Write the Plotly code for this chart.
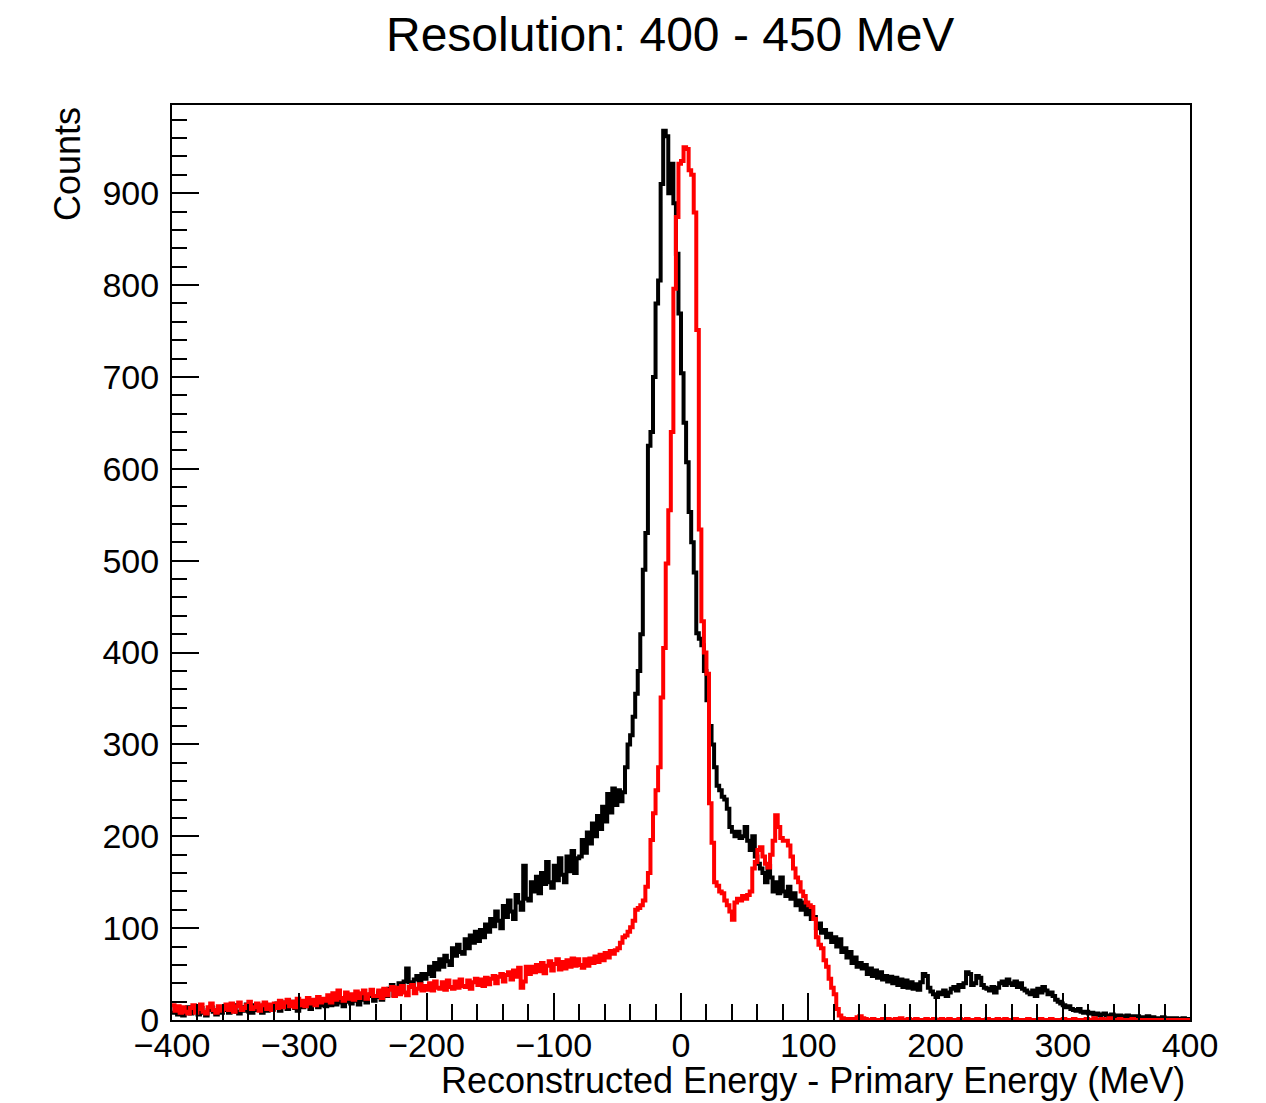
import numpy as np
import plotly.graph_objects as go

# Histogram binning: 400 bins of 2 MeV from -400 to 400
x_min, x_max, n_bins = -400, 400, 400

# Black histogram counts (per 2 MeV bin), in 20-bin blocks
black_counts = (
    [8,13,6,12,5,11,14,7,9,12,6,13,8,5,11,14,9,6,13,8] +
    [11,15,8,13,16,9,7,14,10,17,9,8,16,11,14,8,17,10,15,12] +
    [13,18,10,16,19,12,17,20,13,10,18,14,16,20,12,18,21,14,16,20] +
    [15,22,16,23,17,24,19,15,25,20,18,26,21,17,27,22,19,26,28,21] +
    [25,30,22,32,26,34,38,27,35,40,33,42,56,41,37,44,48,42,50,45] +
    [50,58,48,62,55,66,58,70,64,60,78,70,82,74,72,88,78,92,84,96] +
    [86,98,90,104,96,110,102,118,108,100,124,112,130,118,110,136,128,120,168,132] +
    [130,150,140,156,138,160,148,172,150,144,168,152,176,158,150,178,162,184,160,176] +
    [178,196,182,204,192,214,200,222,208,232,216,246,226,252,234,250,238,248,275,300] +
    [310,330,355,380,420,490,530,625,640,700,780,805,910,968,962,900,932,889,834,769] +
    [704,650,607,553,520,487,421,415,408,380,348,320,300,275,255,250,243,240,230,210] +
    [205,200,205,198,200,210,195,185,200,178,170,165,160,150,168,155,140,150,138,155] +
    [140,135,145,132,138,125,130,120,128,115,122,110,112,100,105,95,98,90,94,85] +
    [90,80,88,74,78,68,74,62,68,58,62,56,60,50,56,48,54,46,52,44] +
    [48,42,47,40,46,38,44,36,43,35,41,34,39,33,41,50,48,35,31,28] +
    [25,30,28,32,26,30,34,36,32,38,36,40,52,50,38,40,48,46,38,35] +
    [34,32,36,30,35,40,42,38,44,40,38,42,36,40,34,32,30,28,32,26] +
    [34,30,36,32,28,30,26,22,20,18,16,14,15,12,11,10,12,9,8,9] +
    [7,8,6,7,5,6,7,5,4,6,5,4,5,3,4,5,3,4,3,4] +
    [3,2,3,4,2,3,2,1,2,3,1,2,2,1,2,1,1,2,1,1]
)

# Red histogram counts (per 2 MeV bin), in 20-bin blocks
red_counts = (
    [16,10,15,8,14,9,7,13,16,8,12,17,9,7,14,18,11,8,15,10] +
    [12,17,11,18,9,15,19,11,13,16,20,12,14,18,10,16,19,12,17,11] +
    [18,13,21,14,19,22,15,20,14,23,16,21,15,24,18,22,16,25,19,23] +
    [21,27,19,29,22,32,24,21,30,23,28,22,31,24,29,32,23,28,33,26] +
    [26,32,24,34,27,33,36,26,35,28,37,30,27,36,38,29,34,39,32,37] +
    [33,40,32,42,35,34,41,33,43,36,34,42,35,44,37,36,43,34,41,45] +
    [38,44,37,46,39,45,48,40,47,50,42,49,52,44,54,47,57,35,42,58] +
    [50,58,52,60,53,62,51,59,64,54,61,66,55,63,56,65,58,67,59,66] +
    [60,57,66,59,67,62,69,63,71,65,73,68,75,72,76,78,84,90,92,96] +
    [101,108,120,122,125,130,145,160,196,225,250,275,351,405,497,555,640,796,874,932] +
    [935,950,948,925,920,879,751,534,434,400,377,236,193,150,146,140,138,130,125,118] +
    [109,128,132,130,135,132,136,140,165,172,185,188,178,170,166,180,195,223,210,198] +
    [195,195,190,178,165,155,150,140,135,128,125,123,110,90,82,78,65,58,45,35] +
    [28,12,5,2,1,1,0,1,0,3,4,2,1,0,0,1,0,0,0,1] +
    [0,1,0,0,1,0,2,0,0,1,0,0,1,0,0,0,1,0,0,1] +
    [0,0,1,0,0,1,0,0,0,1,0,0,1,0,0,0,1,0,0,0] +
    [1,0,0,0,1,0,0,1,0,0,0,1,0,0,0,0,1,0,0,0] +
    [0,1,0,0,0,1,0,0,0,0,1,0,0,0,1,0,0,0,0,1] +
    [0,0,2,0,0,1,0,0,2,0,0,0,1,0,0,0,0,1,0,0] +
    [0,0,0,0,0,0,0,0,0,0,0,0,0,0,0,0,0,0,0,0]
)

assert len(black_counts) == n_bins and len(red_counts) == n_bins

title_text = "Resolution: 400 - 450 MeV"
x_title = "Reconstructed Energy - Primary Energy (MeV)"
y_title = "Counts"
x_ticks = list(range(-400, 401, 100))
y_ticks = list(range(0, 901, 100))

edges = np.linspace(x_min, x_max, n_bins + 1)


def step_xy(counts):
    xs = list(edges)
    ys = list(counts) + [counts[-1]]
    return xs, ys


fig = go.Figure()
for counts, color in [(black_counts, "black"), (red_counts, "#ff0000")]:
    xs, ys = step_xy(counts)
    fig.add_trace(go.Scatter(x=xs, y=ys, mode="lines",
                             line=dict(color=color, width=4, shape="hv"),
                             showlegend=False, hoverinfo="skip"))

font_family = "Liberation Sans, Arial, Helvetica, sans-serif"

# page body adds ~8px offset; plot area targeted at x 172-1190, y 105-1020
fig.update_layout(
    width=1258, height=1095,
    margin=dict(l=164, r=76, t=97, b=83),
    paper_bgcolor="white", plot_bgcolor="white",
    font=dict(family=font_family, color="black", size=33),
    showlegend=False,
)

fig.update_xaxes(
    range=[x_min, x_max], tickvals=x_ticks,
    ticktext=[(("\u2212" + str(-v)) if v < 0 else str(v)) for v in x_ticks],
    ticks="inside", ticklen=27, tickwidth=2, tickcolor="black",
    minor=dict(dtick=20, ticks="inside", ticklen=16, tickwidth=2, tickcolor="black", showgrid=False),
    showline=True, linecolor="black", linewidth=2, mirror=True,
    showgrid=False, zeroline=False, ticklabelstandoff=-6,
    tickfont=dict(size=34, family=font_family, color="black"),
)
fig.update_yaxes(
    range=[0, 996], tickvals=y_ticks,
    ticks="inside", ticklen=27, tickwidth=2, tickcolor="black",
    minor=dict(dtick=20, ticks="inside", ticklen=15, tickwidth=2, tickcolor="black", showgrid=False),
    showline=True, linecolor="black", linewidth=2, mirror=True,
    showgrid=False, zeroline=False, ticklabelstandoff=4,
    tickfont=dict(size=34, family=font_family, color="black"),
)

fig.add_annotation(text=title_text, xref="paper", yref="paper",
                   x=(670 - 172) / 1018, y=1.0 + (105 - 35) / 915, xanchor="center", yanchor="middle",
                   showarrow=False, font=dict(size=48, family=font_family, color="black"))
fig.add_annotation(text=x_title, xref="paper", yref="paper",
                   x=(1187 - 172) / 1018, y=-(1080 - 1020) / 915, xanchor="right", yanchor="middle",
                   showarrow=False, font=dict(size=36, family=font_family, color="black"))
fig.add_annotation(text=y_title, xref="paper", yref="paper", textangle=-90,
                   x=-(172 - 67) / 1018, y=1.0, xanchor="center", yanchor="top",
                   showarrow=False, font=dict(size=36, family=font_family, color="black"))

fig.write_html("out.html")
